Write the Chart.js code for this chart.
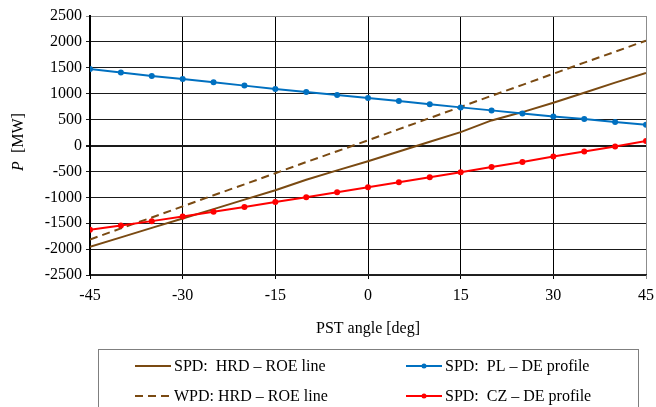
<!DOCTYPE html>
<html>
<head>
<meta charset="utf-8">
<script src="https://cdn.jsdelivr.net/npm/chart.js@4"></script>
<style>
  html, body { margin: 0; padding: 0; background: #fff; }
</style>
</head>
<body>
<canvas id="pst" width="656" height="407"></canvas>
<script>
// PST angle [deg]
const angles = [-45, -40, -35, -30, -25, -20, -15, -10, -5, 0, 5, 10, 15, 20, 25, 30, 35, 40, 45];

// P [MW]
const spdHrdRoe = [-1955, -1773, -1590, -1410, -1228, -1045, -865, -660, -481, -303, -116, 71, 258, 484, 645, 826, 1019, 1213, 1400];
const wpdHrdRoe = [-1815, -1600, -1390, -1175, -960, -750, -535, -320, -110, 100, 315, 530, 745, 960, 1170, 1385, 1600, 1810, 2025];
const spdPlDe = [1479, 1408, 1344, 1286, 1221, 1156, 1092, 1034, 975, 917, 859, 795, 736, 678, 620, 562, 510, 452, 400];
const spdCzDe = [-1628, -1544, -1460, -1370, -1279, -1189, -1092, -1001, -904, -808, -711, -614, -517, -413, -317, -213, -116, -19, 85];

const seriesLabels = ['SPD:  HRD \u2013 ROE line', 'WPD: HRD \u2013 ROE line', 'SPD:  PL \u2013 DE profile', 'SPD:  CZ \u2013 DE profile'];

const xTicks = [-45, -30, -15, 0, 15, 30, 45];
const yTicks = [-2500, -2000, -1500, -1000, -500, 0, 500, 1000, 1500, 2000, 2500];

const serif = "'Liberation Serif', 'Times New Roman', serif";
const brown = '#7a4a12';
const blue = '#0070c0';
const red = '#ff0000';

Chart.defaults.font.family = serif;
Chart.defaults.font.size = 16;
Chart.defaults.color = '#000';

const toPoints = vals => vals.map((v, i) => ({ x: angles[i], y: v }));

// y axis title with italic P, and the two-column legend box
const extras = {
    id: 'extras',
    afterDraw(chart) {
        const ctx = chart.ctx;
        ctx.save();
        ctx.fillStyle = '#000';
        ctx.textBaseline = 'middle';

        // y title
        ctx.save();
        ctx.translate(19, 142);
        ctx.rotate(-Math.PI / 2);
        ctx.font = 'italic 16px ' + serif;
        const wP = ctx.measureText('P').width;
        ctx.font = '16px ' + serif;
        const wRest = ctx.measureText('  [MW]').width;
        let x0 = -(wP + wRest) / 2;
        ctx.font = 'italic 16px ' + serif;
        ctx.fillText('P', x0, 0);
        ctx.font = '16px ' + serif;
        ctx.fillText('  [MW]', x0 + wP, 0);
        ctx.restore();

        // legend frame
        ctx.strokeStyle = '#7f7f7f';
        ctx.lineWidth = 1;
        ctx.strokeRect(98.5, 349.5, 540, 70);

        const items = [
            { x: 135, y: 366, ds: 0 },
            { x: 135, y: 396, ds: 1 },
            { x: 406, y: 366, ds: 2 },
            { x: 406, y: 396, ds: 3 }
        ];
        ctx.font = '16px ' + serif;
        items.forEach(it => {
            const ds = chart.data.datasets[it.ds];
            ctx.save();
            ctx.strokeStyle = ds.borderColor;
            ctx.lineWidth = 2;
            ctx.setLineDash(ds.borderDash || []);
            ctx.beginPath();
            ctx.moveTo(it.x, it.y);
            ctx.lineTo(it.x + 36, it.y);
            ctx.stroke();
            if (ds.pointRadius) {
                ctx.fillStyle = ds.borderColor;
                ctx.beginPath();
                ctx.arc(it.x + 18, it.y, 2.5, 0, Math.PI * 2);
                ctx.fill();
            }
            ctx.restore();
            ctx.fillText(ds.label, it.x + 39, it.y + 1);
        });
        ctx.restore();
    }
};

new Chart(document.getElementById('pst'), {
    type: 'line',
    data: {
        datasets: [
            {
                label: seriesLabels[0],
                data: toPoints(spdHrdRoe),
                borderColor: brown,
                borderWidth: 2,
                pointRadius: 0,
                order: 2
            },
            {
                label: seriesLabels[1],
                data: toPoints(wpdHrdRoe),
                borderColor: brown,
                borderWidth: 2,
                borderDash: [8, 5],
                pointRadius: 0,
                order: 2
            },
            {
                label: seriesLabels[2],
                data: toPoints(spdPlDe),
                borderColor: blue,
                backgroundColor: blue,
                borderWidth: 2,
                pointRadius: 3,
                pointBorderWidth: 0,
                order: 1
            },
            {
                label: seriesLabels[3],
                data: toPoints(spdCzDe),
                borderColor: red,
                backgroundColor: red,
                borderWidth: 2,
                pointRadius: 3,
                pointBorderWidth: 0,
                order: 1
            }
        ]
    },
    options: {
        responsive: false,
        animation: false,
        layout: { padding: { left: 0, right: 10, top: 16, bottom: 0 } },
        plugins: {
            legend: { display: false },
            tooltip: { enabled: false }
        },
        scales: {
            x: {
                type: 'linear',
                min: -45,
                max: 45,
                afterBuildTicks: s => { s.ticks = xTicks.map(v => ({ value: v })); },
                afterFit: s => { s.height = 132; s.paddingLeft = 0; s.paddingRight = 0; },
                ticks: { padding: 7, callback: v => String(v) },
                grid: {
                    color: c => (c.tick && c.tick.value === 45 ? '#8c8c8c' : '#000'),
                    lineWidth: 1,
                    tickLength: 4
                },
                border: { color: '#222', width: 1.5 },
                title: {
                    display: true,
                    text: 'PST angle [deg]',
                    font: { size: 16 },
                    padding: { top: 0, bottom: 69 }
                }
            },
            y: {
                min: -2500,
                max: 2500,
                afterBuildTicks: s => { s.ticks = yTicks.map(v => ({ value: v })); },
                afterFit: s => { s.width = 90; s.paddingTop = 0; s.paddingBottom = 0; },
                ticks: { padding: 4, callback: v => String(v) },
                grid: {
                    color: c => (c.tick && c.tick.value === 2500 ? '#8c8c8c' : '#1a1a1a'),
                    lineWidth: c => (c.tick && c.tick.value === 0 ? 2 : 1),
                    tickLength: 4
                },
                border: { color: '#000', width: 2 }
            }
        }
    },
    plugins: [extras]
});
</script>
</body>
</html>
